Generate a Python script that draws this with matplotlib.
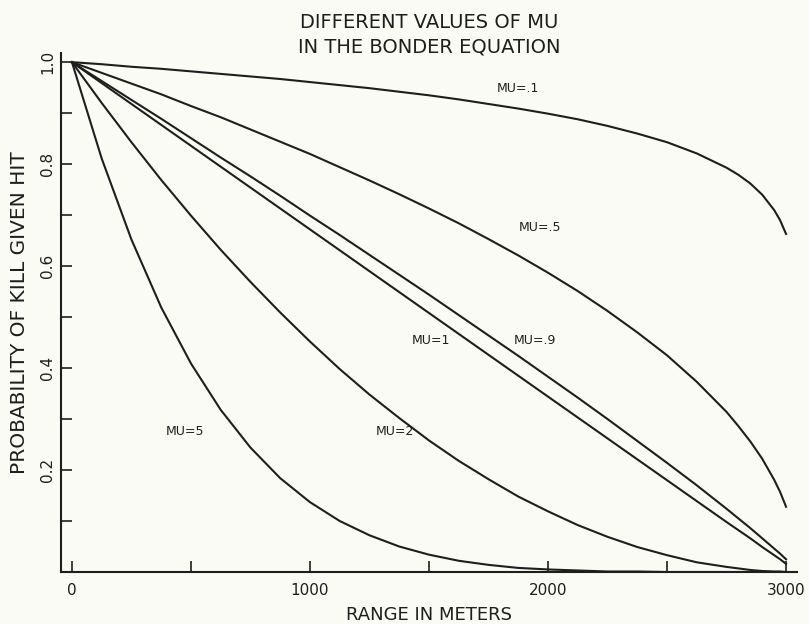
import matplotlib
matplotlib.use("Agg")
import matplotlib.pyplot as plt

rng_m = [0, 125, 250, 375, 500, 625, 750, 875, 1000, 1125, 1250, 1375, 1500,
         1625, 1750, 1875, 2000, 2125, 2250, 2375, 2500, 2625, 2750, 2800,
         2850, 2900, 2950, 2975, 3000]

# probability of kill given hit, per MU value
pk_mu01 = [1.000, .996, .991, .987, .982, .977, .972, .967, .961, .955, .949,
           .942, .935, .927, .918, .909, .899, .888, .875, .860, .843, .821,
           .793, .779, .762, .740, .710, .690, .663]
pk_mu05 = [1.000, .979, .958, .937, .914, .892, .868, .844, .820, .794, .768,
           .741, .713, .684, .653, .621, .587, .551, .512, .470, .425, .373,
           .314, .286, .256, .222, .181, .157, .128]
pk_mu09 = [1.000, .963, .926, .889, .851, .813, .776, .738, .699, .661, .622,
           .583, .544, .504, .464, .424, .383, .342, .300, .257, .214, .170,
           .124, .105, .086, .066, .046, .036, .025]
pk_mu1 = [1.000, .959, .918, .877, .836, .795, .754, .713, .672, .631, .590,
          .549, .508, .467, .426, .385, .344, .303, .262, .221, .180, .139,
          .098, .082, .066, .049, .033, .025, .016]
pk_mu2 = [1.000, .920, .843, .769, .699, .632, .569, .509, .452, .398, .348,
          .302, .258, .218, .182, .148, .119, .092, .069, .049, .033, .019,
          .010, .007, .004, .002, .001, .001, .000]
pk_mu5 = [1.000, .811, .652, .519, .409, .318, .244, .184, .137, .100, .072,
          .050, .034, .022, .014, .008, .005, .003, .001, .001, .000, .000,
          .000, .000, .000, .000, .000, .000, .000]

series = [pk_mu01, pk_mu05, pk_mu09, pk_mu1, pk_mu2, pk_mu5]
curve_labels = ["MU=.1", "MU=.5", "MU=.9", "MU=1", "MU=2", "MU=5"]
label_x = [1874, 1966, 1945, 1508, 1357, 475]
label_y = [0.949, 0.675, 0.455, 0.455, 0.275, 0.275]

plt.rcParams["font.family"] = ["DejaVu Sans"]

ink = "#1e1e1e"
bg = "#fbfbf6"

fig = plt.figure(figsize=(8.09, 6.24), dpi=100, facecolor=bg)
ax = fig.add_axes([61 / 809, 1 - 572 / 624, (797 - 61) / 809, (572 - 53) / 624])
ax.set_facecolor(bg)

for vals in series:
    ax.plot(rng_m, vals, color=ink, linewidth=1.5, solid_joinstyle="round")

for txt, lx, ly in zip(curve_labels, label_x, label_y):
    ax.text(lx, ly, txt, fontsize=9, color=ink, ha="center", va="center")

ax.set_xlim(-46, 3046)
ax.set_ylim(0, 1.018)

ax.spines["top"].set_visible(False)
ax.spines["right"].set_visible(False)
for s in ("left", "bottom"):
    ax.spines[s].set_linewidth(1.5)
    ax.spines[s].set_color(ink)

ax.set_xticks([0, 500, 1000, 1500, 2000, 2500, 3000],
              ["0", "", "1000", "", "2000", "", "3000"])
ax.set_yticks([0.1, 0.2, 0.3, 0.4, 0.5, 0.6, 0.7, 0.8, 0.9, 1.0],
              ["", "0.2", "", "0.4", "", "0.6", "", "0.8", "", "1.0"])
ax.tick_params(direction="in", length=8, width=1.2, color=ink,
               labelsize=11, labelcolor=ink)
ax.tick_params(axis="x", pad=8)
ax.tick_params(axis="y", pad=4)
for lbl in ax.get_yticklabels():
    lbl.set_rotation(90)
    lbl.set_va("center")

ax.set_xlabel("RANGE IN METERS", fontsize=13, color=ink, labelpad=6)
ax.set_ylabel("PROBABILITY OF KILL GIVEN HIT", fontsize=14.5, color=ink,
              labelpad=8)
fig.text(429 / 809, 1 - 35 / 624,
         "DIFFERENT VALUES OF MU\nIN THE BONDER EQUATION",
         fontsize=14, color=ink, ha="center", va="center", linespacing=1.35)

fig.savefig("out.png", dpi=100, facecolor=bg)
